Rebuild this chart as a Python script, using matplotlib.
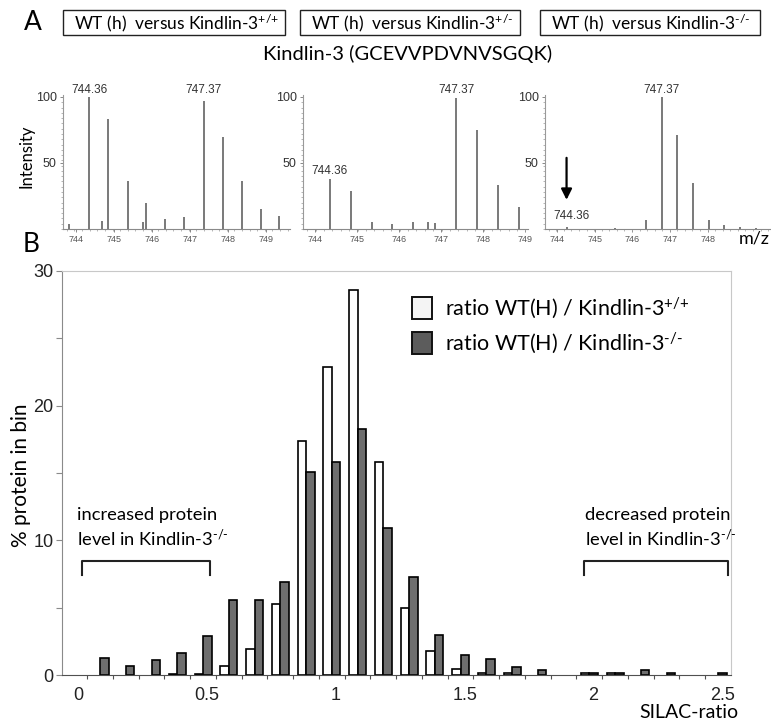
import numpy as np
import matplotlib
matplotlib.use("Agg")
import matplotlib.pyplot as plt
from matplotlib.patches import Rectangle
from matplotlib.transforms import ScaledTranslation

plt.rcParams['font.family'] = ['Lato', 'DejaVu Sans']
plt.rcParams['mathtext.fontset'] = 'custom'
plt.rcParams['mathtext.rm'] = 'Lato'
plt.rcParams['mathtext.it'] = 'Lato:italic'
plt.rcParams['mathtext.bf'] = 'Lato:bold'

# ---- panel A: MS spectra (m/z, relative intensity) ----
spec1_mz = [743.83, 744.36, 744.69, 744.86, 745.37, 745.78, 745.84, 746.35, 746.85,
            747.37, 747.86, 748.36, 748.86, 749.35]
spec1_int = [4, 100, 6, 83, 36, 5.5, 19.5, 7.5, 9, 97, 70, 36, 15, 10]

spec2_mz = [744.36, 744.86, 745.37, 745.84, 746.33, 746.69, 746.86, 747.37, 747.86,
            748.36, 748.86]
spec2_int = [38, 29, 5, 4, 5, 5, 4.5, 99, 75, 33, 17]

spec3_mz = [744.27, 745.54, 746.36, 746.78, 747.19, 747.61, 748.03, 748.43, 748.85, 749.27]
spec3_int = [1.5, 1, 7, 100, 71, 35, 7, 3, 1.5, 1]

box_labels = [r'WT (h)  versus Kindlin-3$^{\text{+/+}}$',
              r'WT (h)  versus Kindlin-3$^{\text{+/-}}$',
              r'WT (h)  versus Kindlin-3$^{\text{-/-}}$']

# ---- panel B: SILAC ratio histogram ----
bins = np.array([0.0, 0.1, 0.2, 0.3, 0.4, 0.5, 0.6, 0.7, 0.8, 0.9, 1.0, 1.1, 1.2,
                 1.3, 1.4, 1.5, 1.6, 1.7, 1.8, 1.9, 2.0, 2.1, 2.2, 2.3, 2.4, 2.5])
pct_wt = np.array([0, 0, 0, 0, 0.1, 0.1, 0.7, 1.9, 5.3, 17.4, 22.9, 28.6, 15.8,
                   5.0, 1.75, 0.45, 0.15, 0.15, 0, 0, 0.12, 0.12, 0, 0, 0, 0])
pct_ko = np.array([0, 1.25, 0.7, 1.1, 1.6, 2.9, 5.6, 5.6, 6.9, 15.05, 15.8, 18.3, 10.9,
                   7.25, 2.95, 1.5, 1.2, 0.6, 0.35, 0, 0.12, 0.12, 0.35, 0.12, 0, 0.12])
xlabels = ['0', '0.5', '1', '1.5', '2', '2.5']
xlabel_pos = [0, 0.5, 1.0, 1.5, 2.0, 2.5]

W, H = 771, 724
fig = plt.figure(figsize=(W / 100, H / 100), dpi=100)


def fx(x):
    return x / W


def fy(y):
    return 1 - y / H


# spectra axes: (data, pixel left/right, xlim, xticks)
spectra = [
    (spec1_mz, spec1_int, 63, 290, (743.67, 749.63), [744, 745, 746, 747, 748, 749]),
    (spec2_mz, spec2_int, 303, 528, (743.72, 749.08), [744, 745, 746, 747, 748, 749]),
    (spec3_mz, spec3_int, 545, 770, (743.69, 749.64), [744, 745, 746, 747, 748]),
]
spec_axes = []
for mz, inten, x0, x1, xl, xt in spectra:
    ax = fig.add_axes([fx(x0), fy(229), (x1 - x0) / W, (229 - 95) / H])
    ax.vlines(mz, 0, inten, color='#555555', lw=1.1)
    ax.set_xlim(*xl)
    ax.set_ylim(0, 101.5)
    for s in ['top', 'right']:
        ax.spines[s].set_visible(False)
    ax.spines['left'].set_color('#9a9a9a')
    ax.spines['bottom'].set_color('#8a8a8a')
    ax.set_xticks(xt)
    ax.set_xticklabels([str(t) for t in xt], fontsize=6.5, color='#555555',
                       family='Liberation Sans')
    ax.set_xticks(np.arange(xl[0] + 0.1, xl[1], 0.2), minor=True)
    ax.set_yticks([50, 100])
    ax.set_yticklabels(['50', '100'], fontsize=9, color='#333333', family='Liberation Sans')
    ax.set_yticks(np.arange(0, 101, 4), minor=True)
    ax.tick_params(axis='both', which='major', length=2.5, width=0.7, color='#888888', pad=2)
    ax.tick_params(axis='both', which='minor', length=1.5, width=0.6, color='#aaaaaa')
    spec_axes.append(ax)

ann_kw = dict(fontsize=8.5, color='#333333', ha='center', va='center',
              family='Liberation Sans', clip_on=False)
a1, a2, a3 = spec_axes
a1.text(744.36, 105, '744.36', **ann_kw)
a1.text(747.37, 105, '747.37', **ann_kw)
a2.text(744.36, 44, '744.36', **ann_kw)
a2.text(747.37, 105, '747.37', **ann_kw)
a3.text(746.78, 105, '747.37', **ann_kw)
a3.text(744.38, 9.5, '744.36', **ann_kw)
a3.annotate('', xy=(744.26, 20), xytext=(744.26, 56),
            arrowprops=dict(arrowstyle='-|>', color='black', lw=1.6, mutation_scale=16))

fig.text(fx(770), fy(239), 'm/z', fontsize=13, ha='right', va='center')
fig.text(fx(27), fy(156), 'Intensity', fontsize=12, rotation=90, ha='center', va='center')
fig.text(fx(33), fy(22), 'A', fontsize=19, ha='center', va='center')
fig.text(fx(408), fy(54), 'Kindlin-3 (GCEVVPDVNVSGQK)', fontsize=14.5, ha='center', va='center')

for (bx0, bx1), lab in zip([(63, 285), (300, 520), (540, 760)], box_labels):
    fig.add_artist(Rectangle((fx(bx0), fy(35)), (bx1 - bx0) / W, 25 / H,
                             transform=fig.transFigure, fill=False, lw=1.0, ec='#222222'))
    fig.text(fx(bx0 + 11), fy(23), lab, fontsize=12.5, ha='left', va='center')

# ---- panel B ----
ax = fig.add_axes([fx(62), fy(675), (731 - 62) / W, (675 - 271) / H])
w = 0.033
m1 = pct_wt > 0
m2 = pct_ko > 0
ax.bar(bins[m1] - w / 2, pct_wt[m1], w, color='white', edgecolor='black', lw=1.2)
ax.bar(bins[m2] + w / 2, pct_ko[m2], w, color='#6e6e6e', edgecolor='black', lw=1.2)
ax.set_xlim(-0.048, 2.55)
ax.set_ylim(0, 30)

ax.spines['top'].set_color('#c8c8c8')
ax.spines['right'].set_color('#c8c8c8')
ax.spines['left'].set_color('#8a8a8a')
ax.spines['bottom'].set_color('#505050')

ax.set_yticks([0, 10, 20, 30])
ax.set_yticklabels(['0', '10', '20', '30'], fontsize=13, family='Liberation Sans', color='#222222')
ax.set_yticks([5, 15, 25], minor=True)
ax.tick_params(axis='y', which='both', direction='out', length=4, width=0.8, color='#8a8a8a', pad=2)

ax.set_xticks(xlabel_pos)
ax.set_xticklabels(xlabels, fontsize=13, family='Liberation Sans', color='#222222')
ax.set_xticks(bins[:-1] + 0.05, minor=True)
ax.tick_params(axis='x', which='major', length=0, pad=9)
ax.tick_params(axis='x', which='minor', direction='out', length=3, width=0.8, color='#505050')
for lab in ax.get_xticklabels():
    lab.set_transform(lab.get_transform() + ScaledTranslation(0.04, 0, fig.dpi_scale_trans))

# brackets and notes
ax.plot([0.0285, 0.0285, 0.527, 0.527], [7.4, 8.5, 8.5, 7.4], color='#222222', lw=1.5)
ax.plot([1.979, 1.979, 2.540, 2.540], [7.4, 8.5, 8.5, 7.4], color='#222222', lw=1.5,
        clip_on=False)
note_kw = dict(fontsize=13.2, ha='left', va='baseline')
ax.text(0.009, 11.5, 'increased protein', **note_kw)
ax.text(0.009, 9.6, r'level in Kindlin-3$^{\text{-/-}}$', **note_kw)
ax.text(1.983, 11.5, 'decreased protein', **note_kw)
ax.text(1.983, 9.6, r'level in Kindlin-3$^{\text{-/-}}$', **note_kw)

# legend
for yc, fc, lab in [(308, '#f4f4f4', r'ratio WT(H) / Kindlin-3$^{\text{+/+}}$'),
                    (343, '#5c5c5c', r'ratio WT(H) / Kindlin-3$^{\text{-/-}}$')]:
    fig.add_artist(Rectangle((fx(412), fy(yc + 11)), 20 / W, 22 / H,
                             transform=fig.transFigure, fc=fc, ec='#111111', lw=1.4))
    fig.text(fx(445), fy(yc), lab, fontsize=15.5, ha='left', va='center')

fig.text(fx(21), fy(475), '% protein in bin', fontsize=15, rotation=90, ha='center', va='center')
fig.text(fx(738), fy(712), 'SILAC-ratio', fontsize=14, ha='right', va='center')
fig.text(fx(31), fy(244), 'B', fontsize=19, ha='center', va='center')

fig.savefig('out.png', dpi=100)
